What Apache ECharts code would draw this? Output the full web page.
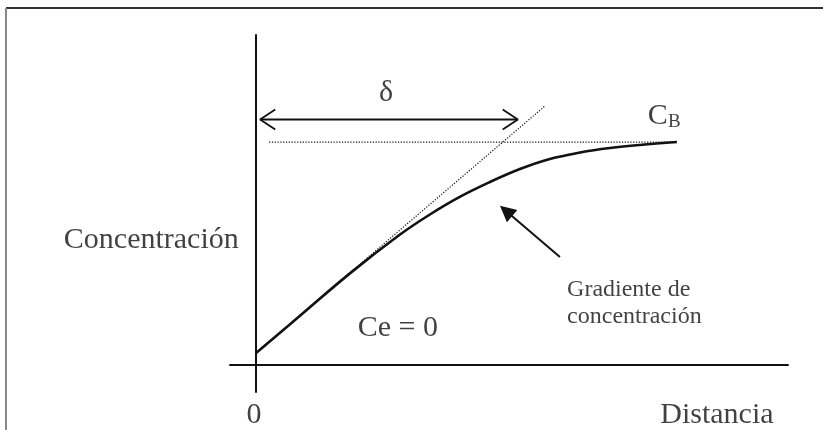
<!DOCTYPE html>
<html>
<head>
<meta charset="utf-8">
<script src="https://cdn.jsdelivr.net/npm/echarts@6/dist/echarts.min.js"></script>
<style>
  html, body { margin: 0; padding: 0; background: #fff; }
  #chart { width: 823px; height: 430px; }
</style>
</head>
<body>
<div id="chart"></div>
<script>
// perfil de concentracion: x = distancia, y = C / C_B
const curveX = [0, 0.105, 0.223, 0.342, 0.413, 0.485, 0.556, 0.627, 0.698, 0.770, 0.841, 0.912, 1.0];
const curveY = [0.054, 0.222, 0.411, 0.585, 0.675, 0.755, 0.821, 0.879, 0.924, 0.953, 0.973, 0.987, 1.0];
// tangente en la superficie (punteada)
const tangentX = [0, 0.686];
const tangentY = [0.054, 1.161];
// nivel C_B (punteado)
const bulkX = [0.031, 1.0];
const bulkY = [1.0, 1.0];
// flecha doble delta
const deltaX = [0.0095, 0.622];
const deltaY = 1.101;
// flecha del gradiente: cola -> punta
const gradX = [0.722, 0.594];
const gradY = [0.484, 0.691];
// textos
const labelText = ['δ', 'C_B', 'Concentración', 'Ce = 0', 'Gradiente de', 'concentración', '0', 'Distancia'];
const labelX = [0.309, 0.931, -0.249, 0.337, 0.739, 0.739, -0.005, 1.095];
const labelY = [1.22, 1.117, 0.561, 0.166, 0.336, 0.215, -0.224, -0.224];

const serif = '"Liberation Serif", "Times New Roman", serif';
const ink = '#111';

const zip = (xs, ys) => xs.map((x, i) => [x, ys[i]]);

// puntas abiertas de la flecha delta
const headDx = 0.036, headDy = 0.045;
const deltaLeft = [[deltaX[0] + headDx, deltaY + headDy], [deltaX[0], deltaY], [deltaX[0] + headDx, deltaY - headDy]];
const deltaRight = [[deltaX[1] - headDx, deltaY + headDy], [deltaX[1], deltaY], [deltaX[1] - headDx, deltaY - headDy]];

function plain(data, width, type) {
  return {
    type: 'line',
    data: data,
    symbol: 'none',
    silent: true,
    clip: false,
    lineStyle: { color: ink, width: width, type: type || 'solid' }
  };
}

const labelItems = labelText.map((t, i) => {
  let label = { fontSize: 30 };
  if (t === 'C_B') {
    label = {
      align: 'left',
      formatter: '{c|C}{b|B}',
      rich: {
        c: { fontFamily: serif, fontSize: 30, color: ink },
        b: { fontFamily: serif, fontSize: 19, color: ink, padding: [12, 0, 0, 0] }
      }
    };
  } else if (t === 'Gradiente de' || t === 'concentración') {
    label = { fontSize: 24, align: 'left' };
  }
  return { value: [labelX[i], labelY[i]], name: t, label: label };
});

const chart = echarts.init(document.getElementById('chart'), null, { renderer: 'canvas' });

const option = {
  animation: false,
  backgroundColor: '#fff',
  grid: { left: 230, right: 35, top: 35, bottom: 38 },
  xAxis: {
    type: 'value',
    min: -0.062,
    max: 1.264,
    axisLine: { onZero: true, lineStyle: { color: ink, width: 2 } },
    axisTick: { show: false },
    axisLabel: { show: false },
    splitLine: { show: false }
  },
  yAxis: {
    type: 'value',
    min: -0.121,
    max: 1.48,
    axisLine: { onZero: true, lineStyle: { color: ink, width: 2 } },
    axisTick: { show: false },
    axisLabel: { show: false },
    splitLine: { show: false }
  },
  graphic: [
    { type: 'line', shape: { x1: 6, y1: 8, x2: 823, y2: 8 }, style: { stroke: '#333', lineWidth: 2 } },
    { type: 'line', shape: { x1: 6, y1: 8, x2: 6, y2: 430 }, style: { stroke: '#888', lineWidth: 2 } }
  ],
  series: [
    Object.assign(plain(zip(tangentX, tangentY), 1.2, [1.2, 1.6]), { z: 1 }),
    Object.assign(plain(zip(bulkX, bulkY), 1.2, [1.2, 1.6]), { z: 1 }),
    Object.assign(plain(zip(curveX, curveY), 2.6), { smooth: 0.4, z: 3 }),
    plain([[deltaX[0], deltaY], [deltaX[1], deltaY]], 1.8),
    plain(deltaLeft, 1.8),
    plain(deltaRight, 1.8),
    {
      type: 'lines',
      coordinateSystem: 'cartesian2d',
      silent: true,
      symbol: ['none', 'triangle'],
      symbolSize: [13, 16],
      lineStyle: { color: ink, width: 2, opacity: 1 },
      data: [{ coords: zip(gradX, gradY) }]
    },
    {
      type: 'scatter',
      symbolSize: 0,
      silent: true,
      clip: false,
      data: labelItems,
      label: {
        show: true,
        position: 'inside',
        formatter: p => p.name,
        fontFamily: serif,
        color: ink
      }
    }
  ]
};

chart.setOption(option);
</script>
</body>
</html>
